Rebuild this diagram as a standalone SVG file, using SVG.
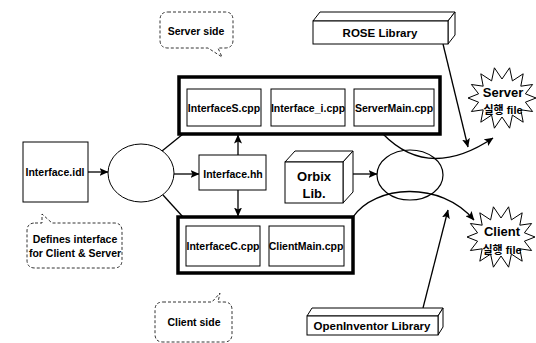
<svg xmlns="http://www.w3.org/2000/svg" width="536" height="343" viewBox="0 0 536 343">
<style>
.t{font-family:"Liberation Sans",Arial,sans-serif;font-weight:bold;font-size:10.5px;fill:#000;text-anchor:middle;dominant-baseline:central}
.big{font-size:13px}
.ko{font-family:"Liberation Sans","Noto Sans CJK KR",sans-serif}
.box{fill:#fff;stroke:#000;stroke-width:1}
.thick{fill:#fff;stroke:#000;stroke-width:3.5}
.bub{fill:#fff;stroke:#000;stroke-width:0.8;stroke-dasharray:3 2}
.ln{fill:none;stroke:#000;stroke-width:1.3}
</style>
<defs>
<marker id="ah" markerWidth="9" markerHeight="8" refX="8.5" refY="4" orient="auto" markerUnits="userSpaceOnUse">
<path d="M0,0 L9,4 L0,8 L2,4 Z" fill="#000"/>
</marker>
<polygon id="star" points="34,0 23.4,4.2 30.6,13.5 18.8,11.8 21.2,24.2 10.4,17.1 7.6,30.2 0,19 -7.6,30.2 -10.4,17.1 -21.2,24.2 -18.8,11.8 -30.6,13.5 -23.4,4.2 -34,0 -23.4,-4.2 -30.6,-13.5 -18.8,-11.8 -21.2,-24.2 -10.4,-17.1 -7.6,-30.2 0,-19 7.6,-30.2 10.4,-17.1 21.2,-24.2 18.8,-11.8 30.6,-13.5 23.4,-4.2" fill="#fff" stroke="#000" stroke-width="1"/>
</defs>

<g id="connectors">
<line class="ln" x1="88" y1="172" x2="108" y2="172" marker-end="url(#ah)"/>
<line class="ln" x1="174" y1="174" x2="199" y2="174" marker-end="url(#ah)"/>
<line class="ln" x1="162" y1="151" x2="183" y2="134"/>
<line class="ln" x1="163" y1="195" x2="183" y2="217"/>
<line class="ln" x1="238" y1="155" x2="238" y2="135" marker-end="url(#ah)"/>
<line class="ln" x1="238" y1="190" x2="238" y2="216" marker-end="url(#ah)"/>
<line class="ln" x1="353" y1="174" x2="377" y2="174" marker-end="url(#ah)"/>
<path class="ln" d="M383,134 C420,172 460,160 493,138" marker-end="url(#ah)"/>
<path class="ln" d="M353,217 C375,185 440,180 474,220" marker-end="url(#ah)"/>
<line class="ln" x1="443" y1="44" x2="468" y2="147" marker-end="url(#ah)"/>
<line class="ln" x1="423" y1="308" x2="448" y2="210" marker-end="url(#ah)"/>
</g>

<g id="server-side-note">
<path class="bub" d="M168,12 H225 Q233,12 233,20 V40 Q233,48 225,48 H218 L222,57 L208,48 H168 Q160,48 160,40 V20 Q160,12 168,12 Z"/>
<text class="t" x="196" y="31">Server side</text>
</g>

<g id="interface-idl">
<rect class="box" x="23" y="142" width="65" height="60"/>
<text class="t" x="55" y="172">Interface.idl</text>
</g>

<g id="defines-note">
<path class="bub" d="M35,223 H42 L42,214 L52,223 H114 Q122,223 122,231 V260 Q122,268 114,268 H35 Q27,268 27,260 V231 Q27,223 35,223 Z"/>
<text class="t" x="75" y="239">Defines interface</text>
<text class="t" x="75" y="253">for Client &amp; Server</text>
</g>

<g id="idl-compiler">
<ellipse class="box" cx="141" cy="173" rx="33" ry="29" stroke-width="1.2"/>
</g>

<g id="server-group">
<rect class="thick" x="179" y="77" width="261" height="57"/>
<g id="interfaceS">
<rect class="box" x="187" y="89" width="74" height="37"/>
<text class="t" x="224" y="108">InterfaceS.cpp</text>
</g>
<g id="interface-i">
<rect class="box" x="271" y="89" width="74" height="37"/>
<text class="t" x="308" y="108">Interface_i.cpp</text>
</g>
<g id="servermain">
<rect class="box" x="354" y="89" width="80" height="37"/>
<text class="t" x="394" y="108">ServerMain.cpp</text>
</g>
</g>

<g id="interface-hh">
<rect class="box" x="199" y="155" width="67" height="35"/>
<text class="t" x="233" y="174">Interface.hh</text>
</g>

<g id="orbix">
<polygon class="box" points="285,162 295,151 353,151 343,162"/>
<polygon class="box" points="343,162 353,151 353,192 343,203"/>
<rect class="box" x="285" y="162" width="58" height="41" stroke-width="1.3"/>
<text class="t big" x="314" y="176">Orbix</text>
<text class="t big" x="314" y="193">Lib.</text>
</g>

<g id="client-group">
<rect class="thick" x="178" y="217" width="175" height="56"/>
<g id="interfaceC">
<rect class="box" x="186" y="226" width="74" height="40"/>
<text class="t" x="223" y="246">InterfaceC.cpp</text>
</g>
<g id="clientmain">
<rect class="box" x="269" y="226" width="75" height="40"/>
<text class="t" x="306" y="246">ClientMain.cpp</text>
</g>
</g>

<g id="linker">
<ellipse cx="410" cy="175" rx="33" ry="25" fill="none" stroke="#000" stroke-width="1.2"/>
</g>

<g id="rose-library">
<polygon class="box" points="313,21 320,12 455,12 448,21"/>
<polygon class="box" points="448,21 455,12 455,35 448,44"/>
<rect class="box" x="313" y="21" width="135" height="23" stroke-width="1.3"/>
<text class="t" x="380" y="33" style="font-size:11.5px">ROSE Library</text>
</g>

<g id="openinventor-library">
<polygon class="box" points="307,316 312,308 443,308 438,316"/>
<polygon class="box" points="438,316 443,308 443,327 438,335"/>
<rect class="box" x="307" y="316" width="131" height="19" stroke-width="1.3"/>
<text class="t" x="372" y="326" style="font-size:11.5px">OpenInventor Library</text>
</g>

<g id="server-exe">
<use href="#star" transform="translate(502,98)"/>
<text class="t big" x="503" y="92">Server</text>
<text class="t ko" x="503" y="110" style="font-size:11px">실행 file</text>
</g>

<g id="client-exe">
<use href="#star" transform="translate(501,237)"/>
<text class="t big" x="502" y="231">Client</text>
<text class="t ko" x="502" y="250" style="font-size:11px">실행 file</text>
</g>

<g id="client-side-note">
<path class="bub" d="M163,302 H212 L220,293 L218,302 H224 Q232,302 232,310 V334 Q232,342 224,342 H163 Q155,342 155,334 V310 Q155,302 163,302 Z"/>
<text class="t" x="194" y="322">Client side</text>
</g>
</svg>
